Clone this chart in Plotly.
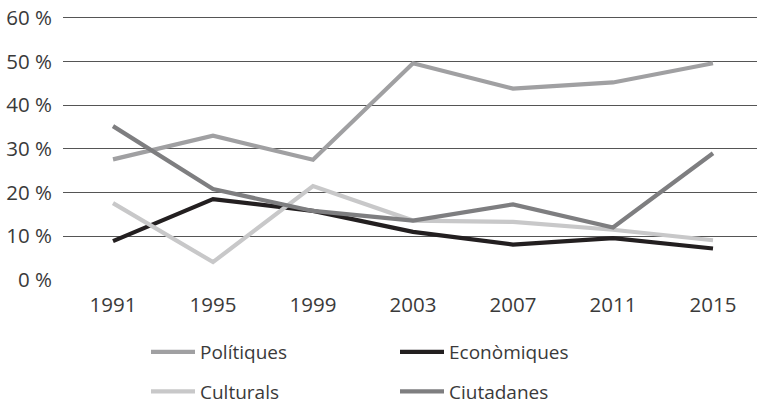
import plotly.graph_objects as go

years = ["1991", "1995", "1999", "2003", "2007", "2011", "2015"]
politiques = [27.6, 33.0, 27.5, 49.6, 43.8, 45.2, 49.6]
economiques = [8.9, 18.5, 15.8, 11.0, 8.1, 9.6, 7.2]
culturals = [17.6, 4.1, 21.5, 13.6, 13.3, 11.5, 9.1]
ciutadanes = [35.2, 20.8, 15.8, 13.6, 17.3, 12.0, 29.0]
y_ticks = [0, 10, 20, 30, 40, 50, 60]
y_tick_text = ["0 %", "10 %", "20 %", "30 %", "40 %", "50 %", "60 %"]

series = [
    ("Polítiques", politiques, "#a0a0a2", "legend"),
    ("Econòmiques", economiques, "#231f20", "legend"),
    ("Culturals", culturals, "#c8c8c9", "legend2"),
    ("Ciutadanes", ciutadanes, "#7e7e80", "legend2"),
]

fig = go.Figure()
for name, vals, col, lg in series:
    fig.add_trace(go.Scatter(
        x=years, y=vals, name=name, mode="lines",
        line=dict(color=col, width=4.2), legend=lg,
    ))

font = dict(family="Open Sans, sans-serif", size=19, color="#3a3a3a")
tick_font = dict(family="Open Sans, sans-serif", size=20.5, color="#3a3a3a")
leg_common = dict(
    orientation="h", xref="container", yref="container",
    xanchor="left", yanchor="middle",
    entrywidth=190, entrywidthmode="pixels",
    font=font, bgcolor="rgba(0,0,0,0)", itemwidth=44,
    borderwidth=0,
)

fig.update_layout(
    width=757, height=404,
    margin=dict(l=63, r=0, t=16, b=124, pad=0, autoexpand=False),
    paper_bgcolor="white", plot_bgcolor="white",
    font=font,
    showlegend=True,
    legend=dict(x=146 / 757, y=1 - 352 / 404, **leg_common),
    legend2=dict(x=146 / 757, y=1 - 391.5 / 404, **leg_common),
    xaxis=dict(
        type="category", range=[-0.5, 6.44],
        showgrid=False, zeroline=False, showline=False,
        ticks="", ticklabelstandoff=10,
        tickfont=tick_font,
    ),
    yaxis=dict(
        range=[0, 60.4], tickvals=y_ticks, ticktext=y_tick_text,
        showgrid=True, gridcolor="#555555", gridwidth=1.3,
        zeroline=False, showline=False,
        ticks="", ticklabelstandoff=10,
        tickfont=tick_font,
    ),
)

fig.write_html(
    "out.html",
    config={"displayModeBar": False},
    post_script="document.body.style.margin='0';document.body.style.overflow='hidden';",
)
